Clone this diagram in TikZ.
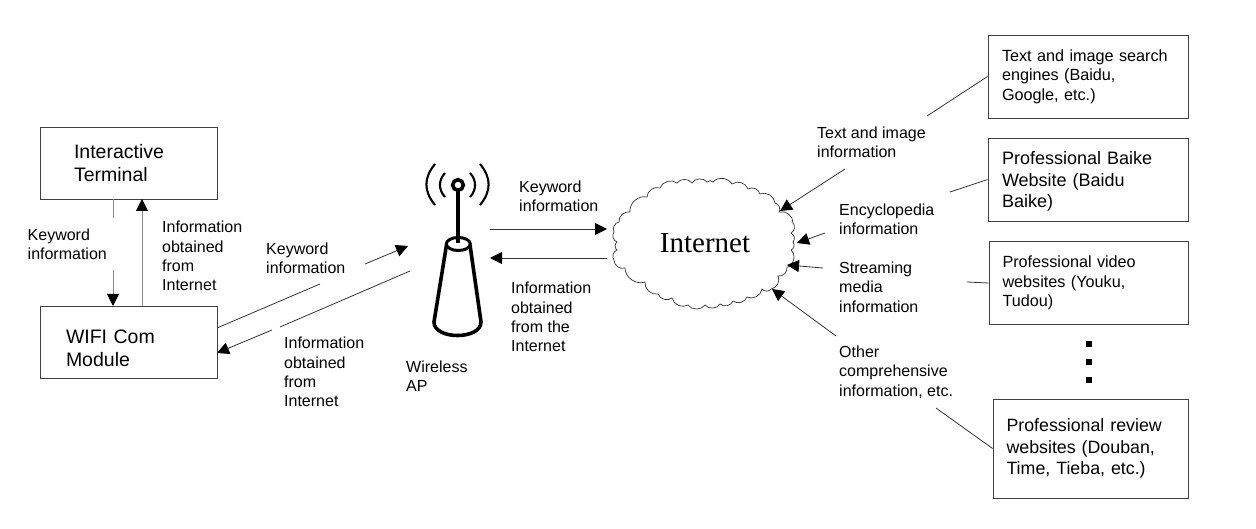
\documentclass[tikz,border=0pt]{standalone}
\usepackage{fontspec}
\setmainfont{Liberation Sans}
\newfontfamily\cloudfont{Liberation Serif}
\usetikzlibrary{arrows.meta}
\tikzset{
  lbl/.style={anchor=west,inner sep=0pt,align=left,font=\fontsize{16}{19.3}\selectfont},
  box/.style={draw=black!75,line width=0.9pt,inner ysep=0pt,align=left},
  link/.style={draw=black!80,line width=0.8pt},
  arr/.style={link,-{Triangle[length=12pt,width=12pt,color=black]}},
  grayarr/.style={arr,draw=black!45,line width=1pt},
  ant/.style={line width=3.6pt,line cap=round},
  wave/.style={line width=2.1pt}
}
\begin{document}
\begin{tikzpicture}
[x=1pt,y=-1pt]
\useasboundingbox (0,0) rectangle (1256,529);
\node [box,minimum width=177pt,minimum height=72pt,inner xsep=34pt,text width=109pt,font=\fontsize{19.5}{23}\selectfont] (term) at (128.5,163) {Interactive\\Terminal};
\node [box,minimum width=177pt,minimum height=72pt,inner xsep=26pt,text width=125pt,font=\fontsize{19.5}{23}\selectfont] (wifi) at (128.5,342) {\rule{0pt}{27pt}WIFI Com\\Module};
\node [box,minimum width=200pt,minimum height=83pt,inner xsep=14pt,text width=172pt,font=\fontsize{16.2}{19.5}\selectfont] (search) at (1088,76.5) {Text and image search\\engines (Baidu,\\Google, etc.)};
\node [box,minimum width=200pt,minimum height=83pt,inner xsep=14pt,text width=172pt,font=\fontsize{18}{21.5}\selectfont] (baike) at (1088,179.5) {\rule{0pt}{17pt}Professional Baike\\Website (Baidu\\Baike)};
\node [box,minimum width=199pt,minimum height=83pt,inner xsep=13.5pt,text width=172pt,font=\fontsize{16.2}{19.5}\selectfont] (video) at (1088.5,283) {Professional video\\websites (Youku,\\Tudou)};
\node [box,minimum width=195pt,minimum height=99pt,inner xsep=13.5pt,text width=168pt,font=\fontsize{17.8}{21.5}\selectfont] (review) at (1090.5,448.5) {Professional review\\websites (Douban,\\Time, Tieba, etc.)};
\node [inner sep=0pt,font=\cloudfont\fontsize{29}{32}\selectfont] (net) at (705,243) {Internet};
\draw [draw=black!80,line width=0.7pt] (614,232)
  \foreach \x/\y in {619/222,630/212,647/197,660/188,677/183,692/183,707/182,713/182,732/184,748/189,760/194,775/203,779/212,793/223,791/233,793/242,791/250,790/265,787/267,778/276,771/289,762/289,747/297,733/301,720/304,705/305,688/305,672/298,658/294,645/282,625/268,614/260,617/250,617/242,614/232}
  { to[bend left=55] (\x,\y) };
\node [fill=black,inner sep=0pt,minimum size=5.5pt] (dot1) at (1089,344) {};
\node [fill=black,inner sep=0pt,minimum size=5.5pt] (dot2) at (1089,362) {};
\node [fill=black,inner sep=0pt,minimum size=5.5pt] (dot3) at (1089,380) {};
\node [lbl] (l1) at (27.5,244.5) {Keyword\\information};
\node [lbl] (l2) at (162,256) {Information\\obtained\\from\\Internet};
\node [lbl] (l3) at (266,258) {Keyword\\information};
\node [lbl] (l4) at (284,372) {Information\\obtained\\from\\Internet};
\node [lbl] (l5) at (406,376.5) {Wireless\\AP};
\node [lbl] (l6) at (519,196) {Keyword\\information};
\node [lbl] (l7) at (511,317) {Information\\obtained\\from the\\Internet};
\node [lbl] (l8) at (817,142.5) {Text and image\\information};
\node [lbl] (l9) at (839,219) {Encyclopedia\\information};
\node [lbl] (l10) at (839,287) {Streaming\\media\\information};
\node [lbl] (l11) at (839,372) {Other\\comprehensive\\information, etc.};
\coordinate (a1) at (113,199);
\coordinate (a2) at (113,218);
\coordinate (a3) at (113,270);
\coordinate (a4) at (113,306);
\coordinate (b1) at (142,306);
\coordinate (b2) at (142,199);
\coordinate (c1) at (217,328);
\coordinate (c2) at (320,284);
\coordinate (c3) at (365,264);
\coordinate (c4) at (408,246);
\coordinate (d1) at (410,271);
\coordinate (d2) at (280,327);
\coordinate (d3) at (272,330);
\coordinate (d4) at (217,353);
\coordinate (e1) at (490,229);
\coordinate (e2) at (607,229);
\coordinate (f1) at (607,258);
\coordinate (f2) at (490,258);
\coordinate (g1) at (927,116);
\coordinate (g2) at (845,169);
\coordinate (g3) at (780,211);
\coordinate (h1) at (950,192);
\coordinate (h2) at (825,233);
\coordinate (h3) at (797,243);
\coordinate (i1) at (967,282);
\coordinate (i2) at (823,268);
\coordinate (i3) at (787,265);
\coordinate (j1) at (936,408);
\coordinate (j2) at (836,336);
\coordinate (j3) at (772,289);
\draw [link,draw=black!45,line width=1pt] (a1) -- (a2);
\draw [grayarr] (a3) -- (a4);
\draw [grayarr] (b1) -- (b2);
\draw [link] (c1) -- (c2);
\draw [arr] (c3) -- (c4);
\draw [link] (d1) -- (d2);
\draw [arr] (d3) -- (d4);
\draw [arr] (e1) -- (e2);
\draw [arr] (f1) -- (f2);
\draw [link] (search.west) -- (g1);
\draw [arr] (g2) -- (g3);
\draw [link] (baike.west) -- (h1);
\draw [arr] (h2) -- (h3);
\draw [link] (video.west) -- (i1);
\draw [arr] (i2) -- (i3);
\draw [link] (review.west) -- (j1);
\draw [arr] (j2) -- (j3);
\draw [ant] (458,185) circle (5.3);
\draw [ant,line cap=butt] (458,190) -- (458,243);
\draw [line width=3pt] (458.3,244) ellipse (12 and 6.5);
\draw [ant] (446.5,245) -- (434,322) .. controls (434,340) and (481,340) .. (481,322) -- (470,245);
\draw [wave] (445,173) .. controls (438.3,180) and (438.3,190) .. (445,197);
\draw [wave] (470,173) .. controls (476.7,180) and (476.7,190) .. (470,197);
\draw [wave] (435,164) .. controls (423.5,178) and (423.5,191) .. (435,205);
\draw [wave] (480,164) .. controls (491.5,178) and (491.5,191) .. (480,205);
\end{tikzpicture}
\end{document}
